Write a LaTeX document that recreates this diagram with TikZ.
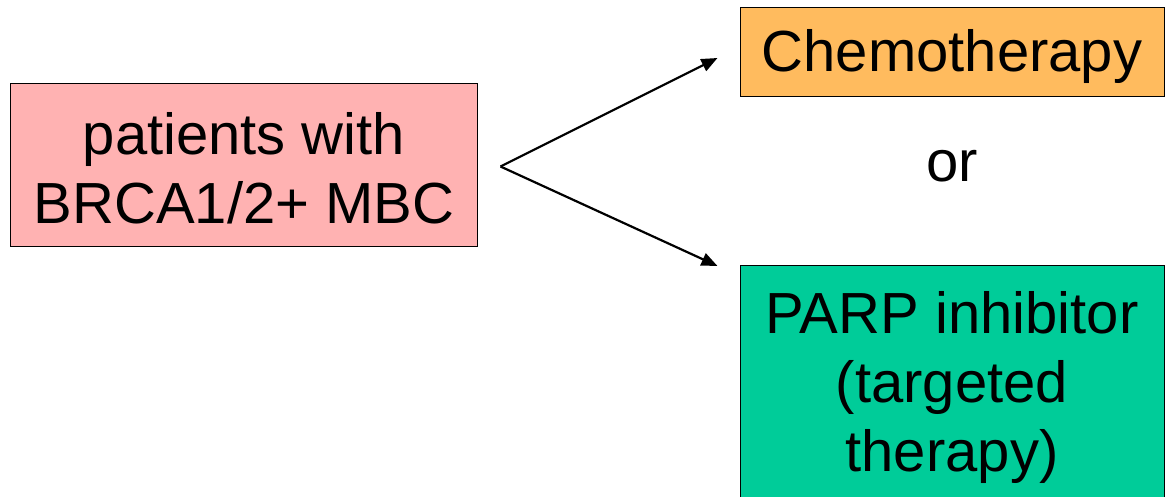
\documentclass[tikz,border=0pt]{standalone}
\usepackage{fontspec}
\setmainfont{Liberation Sans}
\usetikzlibrary{arrows.meta,calc}
\definecolor{pinkfill}{HTML}{FFB2B2}
\definecolor{orangefill}{HTML}{FFBB5E}
\definecolor{greenfill}{HTML}{00CC99}
\begin{document}
\begin{tikzpicture}[x=1bp,y=-1bp,
  box/.style={draw=black, line width=1bp, inner sep=0pt, align=center,
    font=\fontsize{58bp}{69bp}\selectfont},
  branch/.style={line width=2.2bp, -{Triangle[length=16bp,width=13bp]}}]
  \useasboundingbox (0,0) rectangle (1166,497);
  \clip (0,0) rectangle (1166,497);
  % source box
  \node[box, fill=pinkfill, minimum width=466bp, minimum height=163bp]
    (patients) at (244,165.5) {};
  \node[align=center, inner sep=0pt, font=\fontsize{58bp}{69bp}\selectfont]
    (patientstext) at (244,168) {patients with\\BRCA1/2+ MBC};
  % treatment options
  \node[box, fill=orangefill, minimum width=424bp, minimum height=89bp]
    (chemo) at (952,52.5) {};
  \node[inner sep=0pt, font=\fontsize{58bp}{69bp}\selectfont]
    (chemotext) at (952,57) {Chemotherapy};
  \node[box, fill=greenfill, minimum width=424bp, minimum height=244bp]
    (parp) at (952,388) {PARP inhibitor\\(targeted\\therapy)};
  \node[font=\fontsize{58bp}{69bp}\selectfont, inner sep=0pt]
    (or) at (952,166) {or};
  % fork and arrows
  \coordinate (fork) at ($(patients.east)+(23,1)$);
  \coordinate (tochemo) at ($(chemo.west)+(-22,5.5)$);
  \coordinate (toparp) at ($(parp.north west)+(-22,0.5)$);
  \draw[branch] (fork) -- (tochemo);
  \draw[branch] (fork) -- (toparp);
\end{tikzpicture}
\end{document}
